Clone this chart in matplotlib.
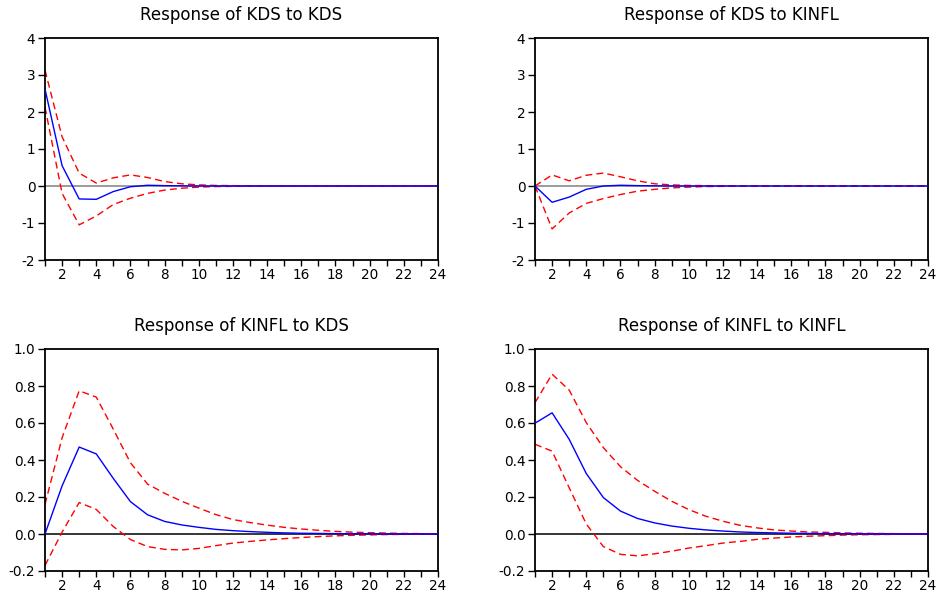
#!/usr/bin/env python

import numpy as np
import matplotlib
matplotlib.use('Agg')
import matplotlib.pyplot as plt
from matplotlib.ticker import FormatStrFormatter

periods = np.arange(1, 25)

# Response of KDS to KDS
kds_kds = [2.62, 0.55, -0.35, -0.36, -0.15, -0.02, 0.02, 0.01, 0.005, 0.0,
           0.0, 0.0, 0.0, 0.0, 0.0, 0.0, 0.0, 0.0, 0.0, 0.0, 0.0, 0.0, 0.0, 0.0]
kds_kds_hi = [3.13, 1.33, 0.35, 0.08, 0.22, 0.30, 0.23, 0.12, 0.06, 0.03,
              0.015, 0.01, 0.005, 0.0, 0.0, 0.0, 0.0, 0.0, 0.0, 0.0, 0.0, 0.0, 0.0, 0.0]
kds_kds_lo = [2.13, -0.20, -1.05, -0.81, -0.50, -0.33, -0.20, -0.11, -0.06, -0.03,
              -0.015, -0.01, -0.005, 0.0, 0.0, 0.0, 0.0, 0.0, 0.0, 0.0, 0.0, 0.0, 0.0, 0.0]

# Response of KDS to KINFL
kds_kinfl = [0.0, -0.44, -0.30, -0.09, 0.0, 0.02, 0.01, 0.005, 0.0, 0.0,
             0.0, 0.0, 0.0, 0.0, 0.0, 0.0, 0.0, 0.0, 0.0, 0.0, 0.0, 0.0, 0.0, 0.0]
kds_kinfl_hi = [0.0, 0.30, 0.14, 0.29, 0.35, 0.25, 0.14, 0.06, 0.03, 0.015,
                0.01, 0.005, 0.0, 0.0, 0.0, 0.0, 0.0, 0.0, 0.0, 0.0, 0.0, 0.0, 0.0, 0.0]
kds_kinfl_lo = [0.0, -1.16, -0.73, -0.47, -0.34, -0.23, -0.14, -0.09, -0.05, -0.03,
                -0.015, -0.01, -0.005, 0.0, 0.0, 0.0, 0.0, 0.0, 0.0, 0.0, 0.0, 0.0, 0.0, 0.0]

# Response of KINFL to KDS
kinfl_kds = [0.0, 0.26, 0.47, 0.433, 0.30, 0.175, 0.104, 0.068, 0.049, 0.036,
             0.025, 0.018, 0.013, 0.009, 0.006, 0.004, 0.003, 0.002, 0.001, 0.001,
             0.0, 0.0, 0.0, 0.0]
kinfl_kds_hi = [0.16, 0.52, 0.774, 0.74, 0.566, 0.385, 0.27, 0.22, 0.177, 0.14,
                0.105, 0.078, 0.062, 0.048, 0.036, 0.027, 0.02, 0.014, 0.01, 0.007,
                0.005, 0.003, 0.002, 0.001]
kinfl_kds_lo = [-0.17, 0.01, 0.17, 0.133, 0.04, -0.03, -0.068, -0.083, -0.086, -0.078,
                -0.063, -0.049, -0.04, -0.032, -0.025, -0.019, -0.014, -0.01, -0.007,
                -0.005, -0.003, -0.002, -0.001, -0.001]

# Response of KINFL to KINFL
kinfl_kinfl = [0.599, 0.655, 0.512, 0.327, 0.197, 0.124, 0.084, 0.06, 0.043, 0.031,
               0.022, 0.016, 0.011, 0.008, 0.006, 0.004, 0.003, 0.002, 0.001, 0.001,
               0.0, 0.0, 0.0, 0.0]
kinfl_kinfl_hi = [0.71, 0.864, 0.778, 0.602, 0.467, 0.364, 0.29, 0.231, 0.177, 0.132,
                  0.096, 0.069, 0.047, 0.033, 0.022, 0.016, 0.011, 0.009, 0.006, 0.004,
                  0.003, 0.002, 0.001, 0.001]
kinfl_kinfl_lo = [0.485, 0.448, 0.25, 0.054, -0.068, -0.11, -0.118, -0.107, -0.093, -0.076,
                  -0.063, -0.049, -0.04, -0.029, -0.022, -0.016, -0.012, -0.009, -0.006,
                  -0.004, -0.003, -0.002, -0.001, -0.001]

titles = ['Response of KDS to KDS', 'Response of KDS to KINFL',
          'Response of KINFL to KDS', 'Response of KINFL to KINFL']

plt.rcParams['font.family'] = 'DejaVu Sans'


def draw_panel(ax, title, resp, hi, lo, ylim, yticks, fmt, zero_color):
    ax.axhline(0, color=zero_color, linewidth=1.1, zorder=1)
    ax.plot(periods, hi, color='#ff0000', linewidth=1.0, dashes=(5, 3), zorder=2)
    ax.plot(periods, lo, color='#ff0000', linewidth=1.0, dashes=(5, 3), zorder=2)
    ax.plot(periods, resp, color='#0000ff', linewidth=1.0, zorder=3)
    ax.set_xlim(1, 24)
    ax.set_ylim(*ylim)
    ax.set_xticks(periods)
    ax.set_xticklabels([str(p) if p % 2 == 0 else '' for p in periods])
    ax.set_yticks(yticks)
    ax.yaxis.set_major_formatter(FormatStrFormatter(fmt))
    ax.tick_params(direction='out', length=4, width=1.0, labelsize=9.8, pad=2,
                   colors='black')
    ax.tick_params(axis='y', length=5)
    for s in ax.spines.values():
        s.set_linewidth(1.3)
    ax.set_title(title, fontsize=12, pad=13)


fig = plt.figure(figsize=(9.39, 5.94), dpi=100)
w = (438 - 45) / 939
h = 222 / 594
ax1 = fig.add_axes([45 / 939, 1 - 260 / 594, w, h])
ax2 = fig.add_axes([535 / 939, 1 - 260 / 594, w, h])
ax3 = fig.add_axes([45 / 939, 1 - 571 / 594, w, h])
ax4 = fig.add_axes([535 / 939, 1 - 571 / 594, w, h])

draw_panel(ax1, titles[0], kds_kds, kds_kds_hi, kds_kds_lo, (-2, 4),
           np.arange(-2, 5, 1), '%d', '#808080')
draw_panel(ax2, titles[1], kds_kinfl, kds_kinfl_hi, kds_kinfl_lo, (-2, 4),
           np.arange(-2, 5, 1), '%d', '#808080')
draw_panel(ax3, titles[2], kinfl_kds, kinfl_kds_hi, kinfl_kds_lo, (-0.2, 1.0),
           np.arange(-0.2, 1.01, 0.2), '%.1f', 'black')
draw_panel(ax4, titles[3], kinfl_kinfl, kinfl_kinfl_hi, kinfl_kinfl_lo, (-0.2, 1.0),
           np.arange(-0.2, 1.01, 0.2), '%.1f', 'black')

fig.savefig('out.png', dpi=100)
